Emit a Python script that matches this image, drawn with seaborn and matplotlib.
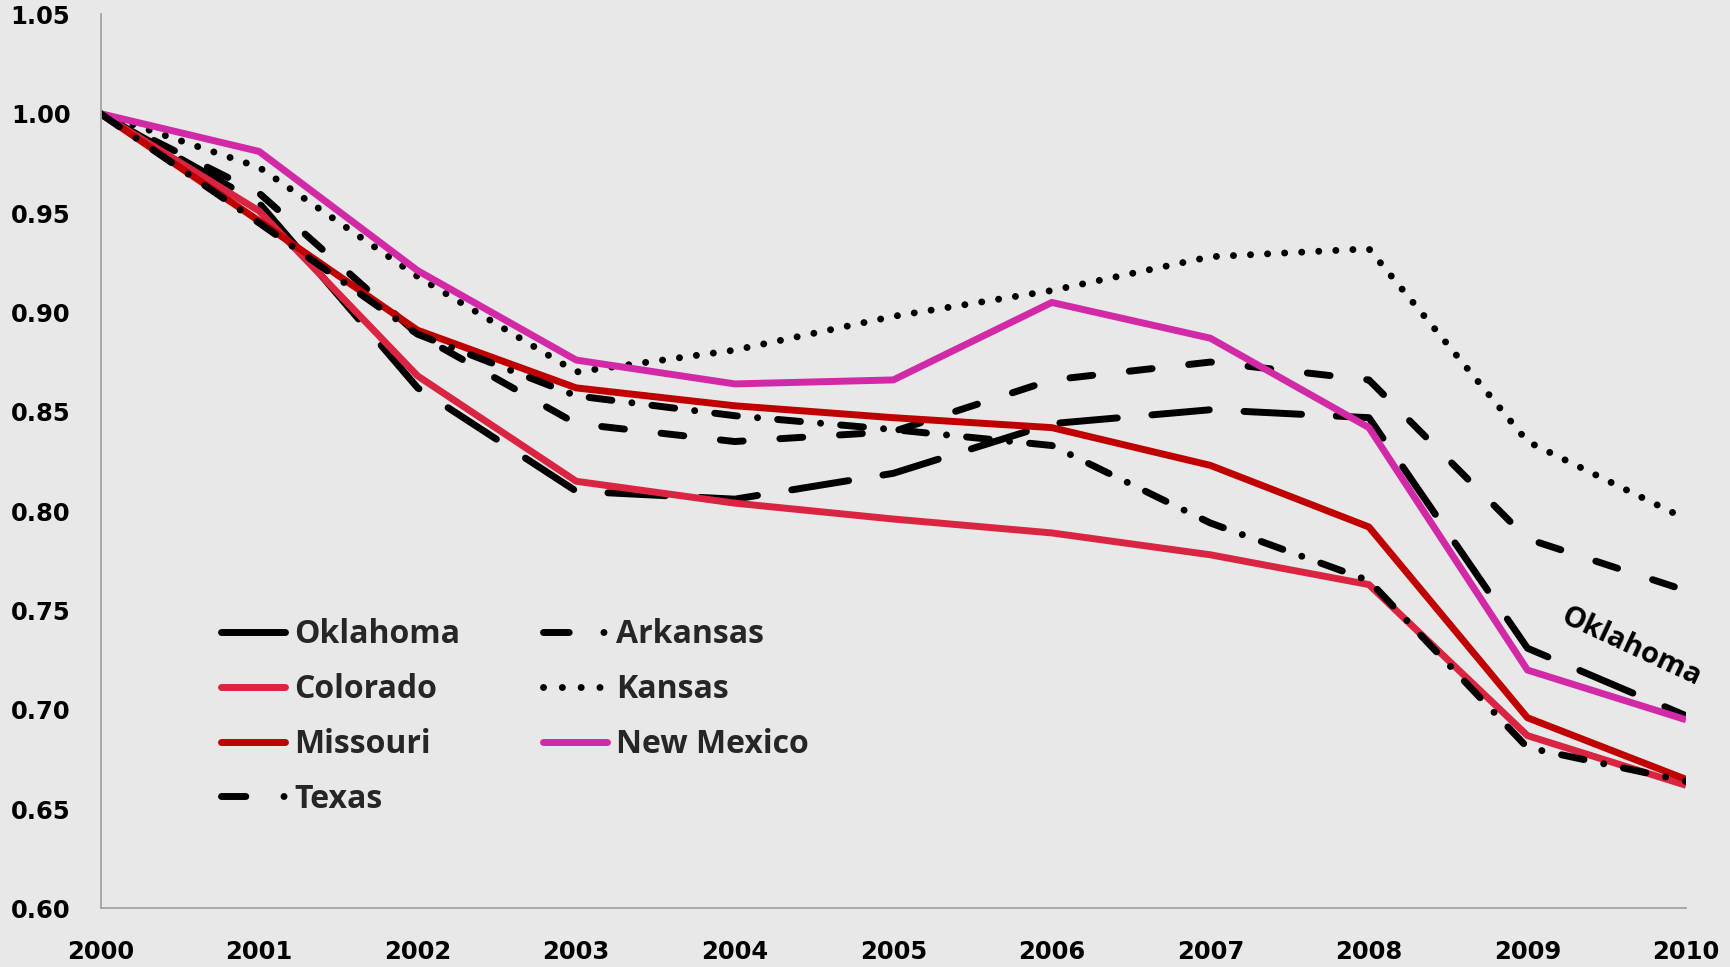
import matplotlib
matplotlib.use("Agg")
import matplotlib.pyplot as plt
import seaborn as sns
from matplotlib.lines import Line2D

# ---------------- data ----------------
years = list(range(2000, 2011))
oklahoma = [1.000, 0.955, 0.862, 0.810, 0.806, 0.819, 0.844, 0.851, 0.847, 0.731, 0.697]
arkansas = [1.000, 0.960, 0.889, 0.844, 0.835, 0.840, 0.866, 0.875, 0.866, 0.786, 0.760]
colorado = [1.000, 0.951, 0.868, 0.815, 0.804, 0.796, 0.789, 0.778, 0.763, 0.687, 0.662]
kansas = [1.000, 0.973, 0.918, 0.870, 0.881, 0.898, 0.911, 0.928, 0.932, 0.835, 0.796]
missouri = [1.000, 0.946, 0.891, 0.862, 0.853, 0.847, 0.842, 0.823, 0.792, 0.696, 0.665]
new_mexico = [1.000, 0.981, 0.921, 0.876, 0.864, 0.866, 0.905, 0.887, 0.842, 0.720, 0.695]
texas = [1.000, 0.945, 0.889, 0.858, 0.848, 0.841, 0.833, 0.794, 0.765, 0.681, 0.664]
y_ticks = [0.60, 0.65, 0.70, 0.75, 0.80, 0.85, 0.90, 0.95, 1.00, 1.05]
annotation = "Oklahoma"

# ---------------- style ----------------
sns.set_theme(style="white")
BG = "#E8E8E8"
AXC = "#A3A3A3"
plt.rcParams["font.family"] = ["Open Sans", "DejaVu Sans"]

fig = plt.figure(figsize=(17.31, 9.67), dpi=100, facecolor=BG)
ax = fig.add_axes([0.0581, 0.0605, 0.974 - 0.0581, 0.9852 - 0.0605])
ax.set_facecolor(BG)

LW = 5
series = [
    ("Oklahoma", oklahoma, "black", (8.3, 5.0)),
    ("Arkansas", arkansas, "black", (3.3, 5.3)),
    ("Colorado", colorado, "#D92442", None),
    ("Kansas", kansas, "black", (0.01, 2.45)),
    ("Missouri", missouri, "#C00000", None),
    ("New Mexico", new_mexico, "#D22AA6", None),
    ("Texas", texas, "black", (3.3, 2.9, 0.01, 2.9)),
]

for name, vals, color, dash in series:
    sns.lineplot(x=years, y=vals, color=color, linewidth=LW, ax=ax, legend=False)
    ln = ax.lines[-1]
    ln.set_solid_joinstyle("round")
    ln.set_dash_joinstyle("round")
    if dash is not None:
        ln.set_dashes(dash)
        ln.set_dash_capstyle("round")
    else:
        ln.set_solid_capstyle("butt")

ax.set_xlim(2000, 2010)
ax.set_ylim(0.60, 1.05)
ax.set_xticks(years)
ax.set_xticklabels([str(y) for y in years])
ax.set_yticks(y_ticks)
ax.set_yticklabels([f"{v:.2f}" for v in y_ticks])
ax.set_xlabel("")
ax.set_ylabel("")

for s in ["top", "right"]:
    ax.spines[s].set_visible(False)
for s in ["left", "bottom"]:
    ax.spines[s].set_color(AXC)
    ax.spines[s].set_linewidth(1.3)

ax.tick_params(axis="y", direction="out", length=6.7, width=1.3, color=AXC,
               pad=15, labelsize=17.5, labelcolor="black")
ax.tick_params(axis="x", direction="out", length=7.5, width=1.3, color=AXC,
               pad=15, labelsize=17.5, labelcolor="black")
for lab in ax.get_xticklabels() + ax.get_yticklabels():
    lab.set_fontweight("bold")
    lab.set_family("DejaVu Sans")
ax.grid(False)

# ---------------- legend ----------------
lg_style = {
    "Oklahoma": ("black", None),
    "Colorado": ("#D92442", None),
    "Missouri": ("#C00000", None),
    "Texas": ("black", (3.5, 5.5, 0.01, 20)),
    "Arkansas": ("black", (3.7, 5.0, 0.01, 20)),
    "Kansas": ("black", (0.01, 2.7)),
    "New Mexico": ("#D22AA6", None),
}
order = ["Oklahoma", "Colorado", "Missouri", "Texas", "Arkansas", "Kansas", "New Mexico"]
handles = []
for nm in order:
    c, d = lg_style[nm]
    h = Line2D([0], [0], color=c, linewidth=LW)
    if d is not None:
        h.set_dashes(d)
        h.set_dash_capstyle("round")
    else:
        h.set_solid_capstyle("round")
    handles.append(h)

leg = ax.legend(handles, order, ncol=2, loc="upper left",
                bbox_to_anchor=(0.076, 0.3245), frameon=False,
                prop={"size": 23, "weight": "bold"},
                handlelength=2.0, handletextpad=0.3, columnspacing=2.58,
                labelspacing=0.68, borderpad=0, borderaxespad=0)

ax.text(2009.65, 0.7317, annotation, rotation=-25, rotation_mode="anchor",
        ha="center", va="center", fontsize=21, fontweight="bold", color="black")

fig.savefig("out.png", dpi=100, facecolor=BG)
